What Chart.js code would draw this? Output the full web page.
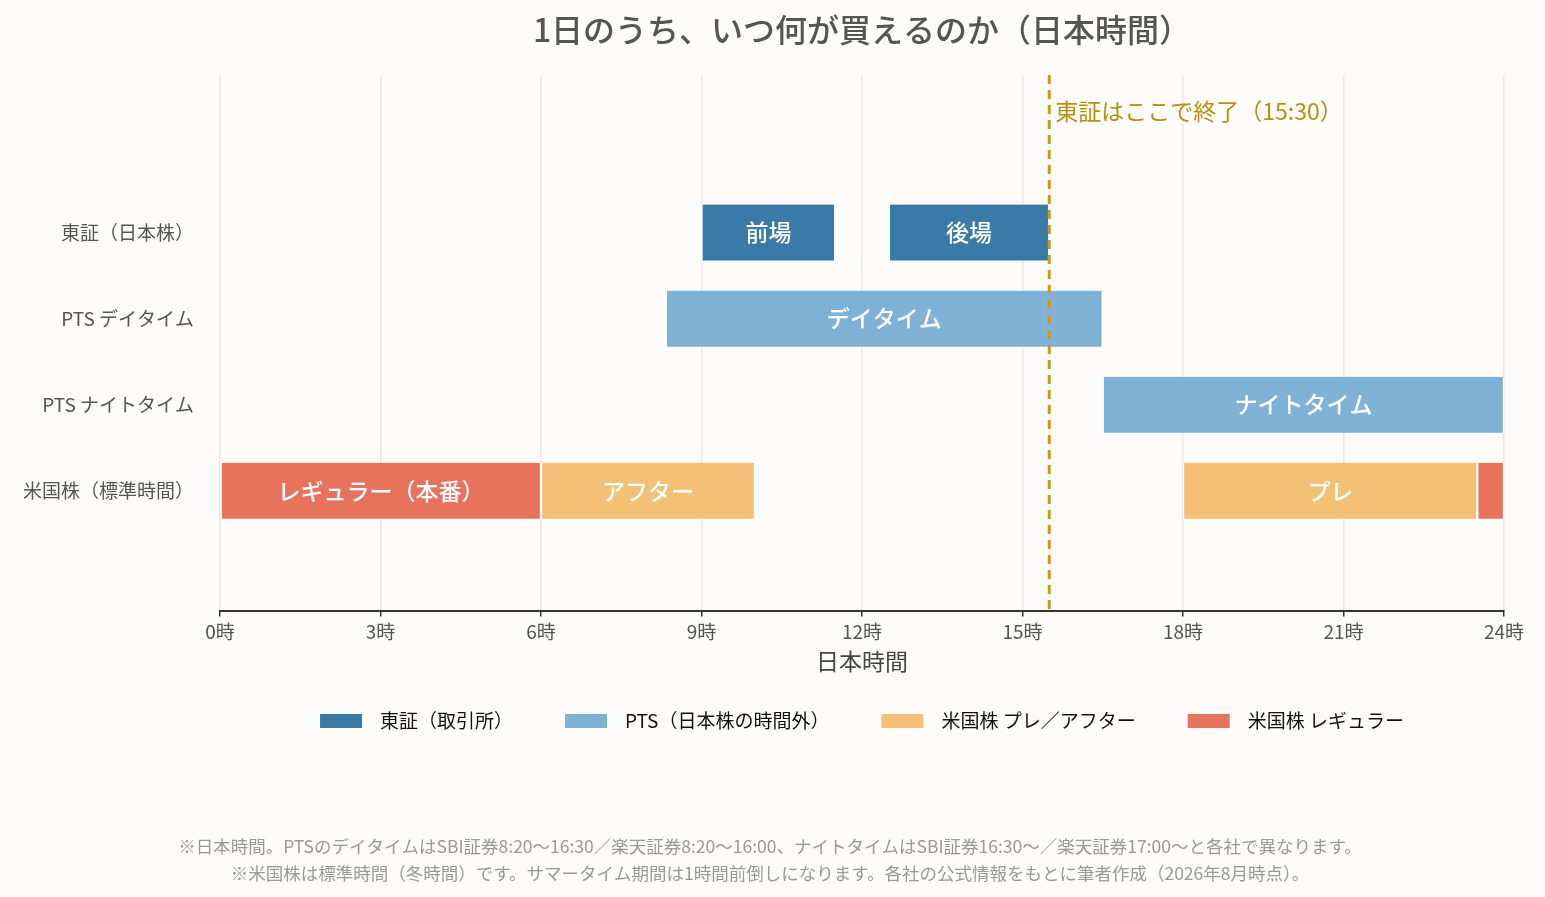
<!DOCTYPE html>
<html><head><meta charset="utf-8">
<script src="https://cdn.jsdelivr.net/npm/chart.js@4"></script>
<style>html,body{margin:0;padding:0;background:#fdfcfa;}#w{position:relative;width:1545px;height:897px;}</style>
</head><body><div id="w"><canvas id="c" width="1545" height="897"></canvas></div>
<script>
const categories = ['東証（日本株）','PTS デイタイム','PTS ナイトタイム','米国株（標準時間）'];
const seriesNames = ['東証（取引所）','PTS（日本株の時間外）','米国株 プレ／アフター','米国株 レギュラー'];
const seriesColors = ['#3a7aa6','#7fb2d4','#f4c075','#e8735c'];
const tseBars = [{y:0,x:[9,11.5],t:'前場'},{y:0,x:[12.5,15.5],t:'後場'}];
const ptsBars = [{y:1,x:[8+20/60,16.5],t:'デイタイム'},{y:2,x:[16.5,24],t:'ナイトタイム'}];
const usExtBars = [{y:3,x:[6,10],t:'アフター'},{y:3,x:[18,23.5],t:'プレ'}];
const usRegBars = [{y:3,x:[0,6],t:'レギュラー（本番）'},{y:3,x:[23.5,24],t:''}];
const tickValues = [0,3,6,9,12,15,18,21,24];
const closeTime = 15.5;
const closeLabel = '東証はここで終了（15:30）';
const titleText = '1日のうち、いつ何が買えるのか（日本時間）';
const notes = ['※日本時間。PTSのデイタイムはSBI証券8:20〜16:30／楽天証券8:20〜16:00、ナイトタイムはSBI証券16:30〜／楽天証券17:00〜と各社で異なります。',
'※米国株は標準時間（冬時間）です。サマータイム期間は1時間前倒しになります。各社の公式情報をもとに筆者作成（2026年8月時点）。'];
const F = '"Noto Sans CJK JP", "Noto Sans", sans-serif';
Chart.defaults.font.family = F;
const allData = [tseBars, ptsBars, usExtBars, usRegBars];
const plug = {
  id:'extra',
  afterDatasetsDraw(ch){
    const c = ch.ctx, ca = ch.chartArea;
    c.save();
    c.font = '500 23px '+F; c.fillStyle='#fff'; c.textAlign='center'; c.textBaseline='middle';
    ch.data.datasets.forEach((ds,i)=>{
      ch.getDatasetMeta(i).data.forEach((el,j)=>{
        const t = ds.data[j].t; if(!t) return;
        c.fillText(t,(el.x+el.base)/2,el.y);
      });
    });
    const x = ch.scales.x.getPixelForValue(closeTime);
    c.strokeStyle='#c99a1e'; c.lineWidth=3; c.setLineDash([9,6]);
    c.beginPath(); c.moveTo(x,ca.top); c.lineTo(x,ca.bottom); c.stroke();
    c.setLineDash([]);
    c.fillStyle='#b8900f'; c.font='23px '+F; c.textAlign='left';
    c.fillText(closeLabel,x+6,111);
    // title
    c.fillStyle='#555'; c.font='500 32px '+F; c.textAlign='center';
    c.fillText(titleText,(ca.left+ca.right)/2,30);
    // legend
    c.font='19px '+F; c.textAlign='left';
    const gapBox=18, gapItem=52, bw=42;
    const widths = seriesNames.map(n=>bw+gapBox+c.measureText(n).width);
    const total = widths.reduce((a,b)=>a+b,0)+gapItem*(widths.length-1);
    let lx = (ca.left+ca.right)/2-total/2;
    seriesNames.forEach((n,i)=>{
      c.fillStyle=seriesColors[i]; c.fillRect(lx,714,bw,14);
      c.fillStyle='#111'; c.fillText(n,lx+bw+gapBox,721);
      lx+=widths[i]+gapItem;
    });
    c.fillStyle='#999'; c.font='17.5px '+F; c.textAlign='center';
    c.fillText(notes[0],770,846); c.fillText(notes[1],770,873);
    c.restore();
  }
};
new Chart(document.getElementById('c'),{
  type:'bar',
  data:{datasets:allData.map((d,i)=>({label:seriesNames[i],data:d,backgroundColor:seriesColors[i],borderColor:'#ffffff',borderWidth:{left:1.5,right:1.5,top:0,bottom:0},borderSkipped:false,barThickness:56,grouped:false}))},
  options:{
    indexAxis:'y',responsive:false,animation:false,
    layout:{padding:{left:10,right:41,top:75,bottom:222}},
    plugins:{title:{display:false},legend:{display:false},tooltip:{enabled:false}},
    scales:{
      x:{type:'linear',min:0,max:24,afterBuildTicks(a){a.ticks=tickValues.map(v=>({value:v}));},
        ticks:{callback:v=>v+'時',color:'#555',font:{size:19},padding:4},
        grid:{color:'#e8e8e8',lineWidth:1.5,drawTicks:true,tickLength:6,tickColor:'#333'},
        border:{color:'#333',width:2},
        title:{display:true,text:'日本時間',color:'#444',font:{size:23},padding:{top:0,bottom:0}}},
      y:{type:'linear',reverse:true,min:-1.053,max:3.614,
        afterBuildTicks(a){a.ticks=[0,1,2,3].map(v=>({value:v}));},
        afterFit(a){a.width=210;},
        ticks:{callback:v=>categories[v],color:'#555',font:{size:19},padding:18},
        grid:{display:false},border:{display:false}}
    }
  },
  plugins:[plug]
});
</script></body></html>
